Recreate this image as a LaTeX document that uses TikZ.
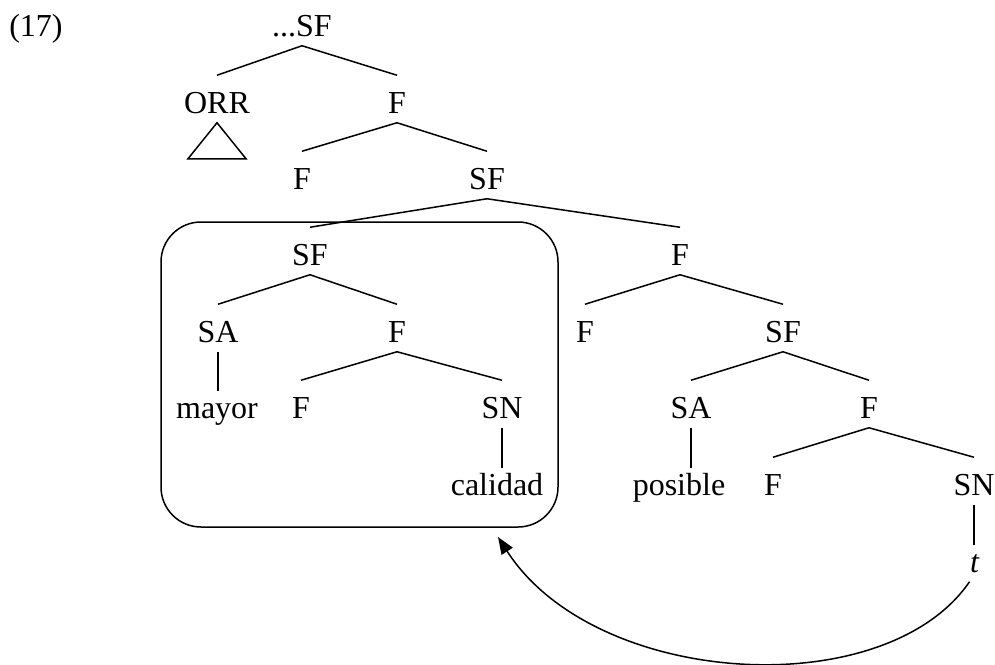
\documentclass[tikz,border=0pt]{standalone}
\usepackage{fontspec}
\setmainfont{Liberation Serif}
\usetikzlibrary{arrows.meta}

\begin{document}
\begin{tikzpicture}[x=1pt,y=-1pt,line width=1.5pt,
    every node/.style={font=\fontsize{32}{38}\selectfont,anchor=base,
      inner sep=0pt,text height=37pt,text depth=9pt},
    unary/.style={shorten >=-11pt}]
  \useasboundingbox (0,0) rectangle (995,664);

  % the moved constituent
  \node[draw,rounded corners=40pt,anchor=center,
        minimum width=397pt,minimum height=305pt] (box) at (359.5,374.5) {};

  \node (num)     at (36,36)   {(17)};
  \node (top)     at (302,36)  {...SF};
  \node (orr)     at (217,113) {ORR};
  \node (f1)      at (397,113) {F};
  \node (f2)      at (302,189) {F};
  \node (sf2)     at (487,189) {SF};
  \node (sf3)     at (310,265) {SF};
  \node (f3)      at (680,265) {F};
  \node (sa4)     at (218,342) {SA};
  \node (f4a)     at (397,342) {F};
  \node (f4b)     at (585,342) {F};
  \node (sf4)     at (783,342) {SF};
  \node (mayor)   at (217,418) {mayor};
  \node (f5a)     at (301,418) {F};
  \node (sn5)     at (502,418) {SN};
  \node (sa5)     at (691,418) {SA};
  \node (f5b)     at (869,418) {F};
  \node (calidad) at (497,495) {calidad};
  \node (posible) at (679,495) {posible};
  \node (f6)      at (773,495) {F};
  \node (sn6)     at (974,495) {SN};
  \node (t)       at (975,572) {\textit{t}};
  \coordinate (gap) at (498,537);

  \path (top.south) edge (orr.north) edge (f1.north)
        (f1.south)  edge (f2.north)  edge (sf2.north)
        (sf2.south) edge (sf3.north) edge (f3.north)
        (sf3.south) edge (sa4.north) edge (f4a.north)
        (f3.south)  edge (f4b.north) edge (sf4.north)
        (f4a.south) edge (f5a.north) edge (sn5.north)
        (sf4.south) edge (sa5.north) edge (f5b.north)
        (f5b.south) edge (f6.north)  edge (sn6.north)
        (sa4.south) edge[unary] (sa4.south |- mayor.north)
        (sn5.south) edge[unary] (sn5.south |- calidad.north)
        (sa5.south) edge[unary] (sa5.south |- posible.north)
        (sn6.south) edge[unary] (sn6.south |- t.north)
        ;

  \draw (orr.south) -- +(-29,36) -- +(29,36) -- cycle;

  \draw[-{Triangle[length=17pt,width=13pt]}]
    (t.south west) .. controls (885,705) and (595,688) .. (gap);
\end{tikzpicture}
\end{document}
